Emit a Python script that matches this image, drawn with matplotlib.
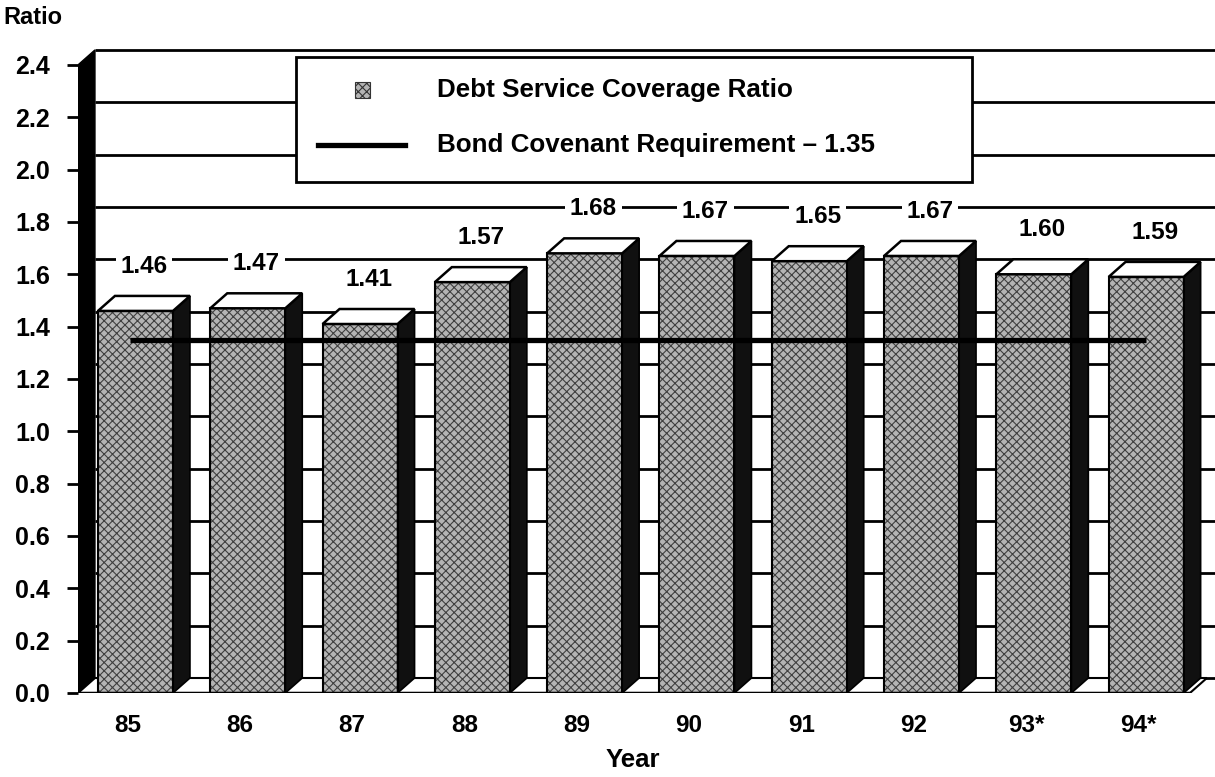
import numpy as np
import matplotlib.pyplot as plt
from matplotlib.patches import Polygon, Rectangle
from matplotlib.lines import Line2D

plt.rcParams['font.family'] = ['Liberation Sans', 'DejaVu Sans']
plt.rcParams['font.weight'] = 'bold'
plt.rcParams['hatch.linewidth'] = 0.8

years = ['85', '86', '87', '88', '89', '90', '91', '92', '93*', '94*']
coverage = [1.46, 1.47, 1.41, 1.57, 1.68, 1.67, 1.65, 1.67, 1.60, 1.59]
requirement = 1.35
yticks = [0.0, 0.2, 0.4, 0.6, 0.8, 1.0, 1.2, 1.4, 1.6, 1.8, 2.0, 2.2, 2.4]

# 3-D look: depth offset of the back wall in data units
ddx, ddy = 0.151, 0.0573
bw = 0.668
x = np.arange(len(years))
xmin, xmax = -0.512, 9.613
ytop = yticks[-1]
floor_end = x[-1] + 0.39
bar_face = '#b4b4b4'

fig = plt.figure(figsize=(12.15, 7.77), dpi=100)
ax = fig.add_axes([78 / 1215, 84 / 777, 1137 / 1215, 654.25 / 777])
ax.set_xlim(xmin, xmax)
ax.set_ylim(0, 2.5)
for s in ax.spines.values():
    s.set_visible(False)

# back wall grid lines (shifted by the depth offset)
for v in yticks:
    ax.plot([xmin + ddx, xmax], [v + ddy, v + ddy], color='black', lw=2.0, zorder=1,
            solid_capstyle='butt')

# left wall
ax.add_patch(Polygon([(xmin, 0), (xmin + ddx, ddy), (xmin + ddx, ytop + ddy), (xmin, ytop)],
                     closed=True, facecolor='black', edgecolor='black', lw=1, zorder=2))

# floor
ax.add_patch(Polygon([(xmin, 0), (floor_end, 0), (floor_end + ddx, ddy), (xmin + ddx, ddy)],
                     closed=True, facecolor='white', edgecolor='black', lw=1.5, zorder=2))
ax.plot([xmin - 0.1, floor_end], [0, 0], color='black', lw=2.5, zorder=6,
        solid_capstyle='butt')

# bars: front face
ax.bar(x, coverage, width=bw, facecolor=bar_face, edgecolor='#404040', hatch='xxxx',
       lw=0, zorder=3)
ax.bar(x, coverage, width=bw, facecolor='none', edgecolor='black', lw=1.5, zorder=4)
for xi, v in zip(x, coverage):
    r = xi + bw / 2
    l = xi - bw / 2
    # side face
    ax.add_patch(Polygon([(r, 0), (r + ddx, ddy), (r + ddx, v + ddy), (r, v)], closed=True,
                         facecolor='#101010', edgecolor='black', lw=1.2, zorder=3))
    # top face
    ax.add_patch(Polygon([(l, v), (r, v), (r + ddx, v + ddy), (l + ddx, v + ddy)], closed=True,
                         facecolor='white', edgecolor='black', lw=1.8, zorder=4))
    ax.text(xi + ddx / 2, v + 0.17, f'{v:.2f}', ha='center', va='center', fontsize=17.5,
            fontweight='bold', zorder=7,
            bbox=dict(boxstyle='square,pad=0.2', facecolor='white', edgecolor='none'))

# bond covenant requirement line
ax.plot([x[0] - 0.05, x[-1]], [requirement, requirement], color='black', lw=3.8, zorder=5,
        solid_capstyle='butt')

ax.set_yticks(yticks)
ax.set_yticklabels([f'{v:.1f}' for v in yticks])
ax.set_xticks(x - 0.07)
ax.set_xticklabels(years)
ax.tick_params(axis='y', direction='out', length=8, width=2, pad=12, labelsize=18)
ax.tick_params(axis='x', length=0, pad=15, labelsize=17.5)
for lab in ax.get_xticklabels() + ax.get_yticklabels():
    lab.set_fontweight('bold')

ax.set_xlabel('Year', fontsize=18.5, fontweight='bold', va='center')
ax.xaxis.set_label_coords(0.488, -0.102)
ax.set_ylabel('Ratio', fontsize=17, fontweight='bold', rotation=0, va='center')
ax.yaxis.set_label_coords(-0.040, 1.033)

# legend box
ax.add_patch(Rectangle((0.1917, 0.7811), 0.7863 - 0.1917, 0.9721 - 0.7811,
                       transform=ax.transAxes, facecolor='white', edgecolor='black',
                       lw=2, zorder=8))
ax.add_patch(Rectangle((0.2498 - 0.0066, 0.9217 - 0.0115), 0.0132, 0.023,
                       transform=ax.transAxes, facecolor=bar_face, edgecolor='#333333',
                       hatch='xxxx', lw=0.8, zorder=9))
ax.add_line(Line2D([0.2111, 0.2876], [0.8376, 0.8376], color='black', lw=3.8,
                   transform=ax.transAxes, zorder=9))
ax.text(0.3157, 0.9217, 'Debt Service Coverage Ratio', transform=ax.transAxes,
        fontsize=18.7, fontweight='bold', va='center', ha='left', zorder=9)
ax.text(0.3157, 0.8376, 'Bond Covenant Requirement \u2013 1.35', transform=ax.transAxes,
        fontsize=18.7, fontweight='bold', va='center', ha='left', zorder=9)

fig.savefig('out.png', dpi=100)
